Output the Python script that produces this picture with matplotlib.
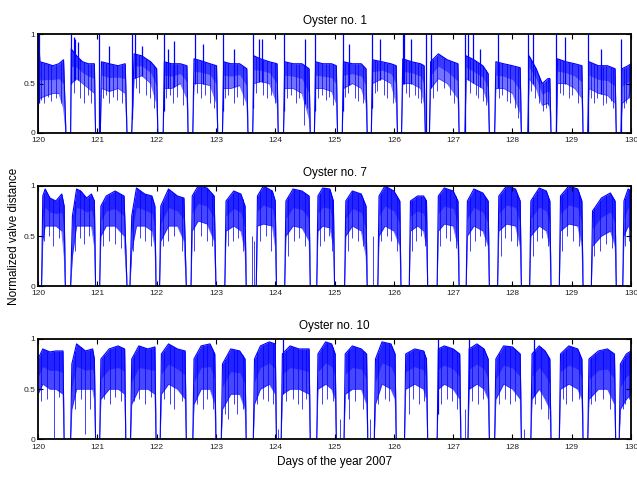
import matplotlib.pyplot as plt
import numpy as np

# valve opening band: day, upper edge, lower edge
days1 = [120.00, 120.01, 120.03, 120.15, 120.25, 120.35, 120.43, 120.47, 120.55, 120.56, 120.65, 120.75, 120.85, 120.95,
         120.97, 121.05, 121.07, 121.2, 121.35, 121.47, 121.5, 121.58, 121.62, 121.75, 121.9, 122.0, 122.02, 122.11,
         122.13, 122.25, 122.4, 122.51, 122.53, 122.61, 122.63, 122.75, 122.9, 123.01, 123.03, 123.11, 123.13, 123.25,
         123.4, 123.52, 123.54, 123.62, 123.64, 123.75, 123.9, 124.03, 124.05, 124.14, 124.16, 124.3, 124.45, 124.57,
         124.59, 124.66, 124.68, 124.8, 124.95, 125.03, 125.05, 125.13, 125.15, 125.3, 125.45, 125.53, 125.55, 125.62,
         125.64, 125.8, 125.95, 126.04, 126.06, 126.13, 126.15, 126.3, 126.45, 126.51, 126.53, 126.6, 126.62, 126.75,
         126.9, 127.08, 127.1, 127.2, 127.22, 127.35, 127.5, 127.59, 127.61, 127.7, 127.72, 127.85, 128.0, 128.13,
         128.15, 128.26, 128.28, 128.4, 128.5, 128.6, 128.63, 128.65, 128.74, 128.76, 128.9, 129.05, 129.17, 129.19,
         129.27, 129.29, 129.45, 129.6, 129.73, 129.75, 129.83, 129.85, 129.95, 130.0]
high1 = [0, 1.0, 0.72, 0.70, 0.68, 0.70, 0.74, 0, 0, 0.85, 0.78, 0.72, 0.70, 0.70,
         0, 0, 0.72, 0.70, 0.68, 0.70, 0, 0, 0.80, 0.78, 0.72, 0.65, 0, 0,
         0.72, 0.70, 0.70, 0.68, 0, 0, 0.75, 0.73, 0.70, 0.68, 0, 0, 0.72, 0.70,
         0.70, 0.65, 0, 0, 0.78, 0.75, 0.72, 0.70, 0, 0, 0.72, 0.70, 0.70, 0.65,
         0, 0, 0.72, 0.70, 0.70, 0.68, 0, 0, 0.72, 0.70, 0.70, 0.65, 0, 0,
         0.74, 0.72, 0.70, 0.68, 0, 0, 0.75, 0.72, 0.70, 0.68, 0, 0, 0.72, 0.80,
         0.74, 0.70, 0, 0, 0.78, 0.74, 0.68, 0.60, 0, 0, 0.72, 0.70, 0.68, 0.66,
         0, 0, 0.78, 0.65, 0.50, 0.55, 0.55, 0, 0, 0.75, 0.72, 0.70, 0.68, 0,
         0, 0.72, 0.68, 0.68, 0.65, 0, 0, 0.65, 0.68, 0.70]
low1 = [0, 0.30, 0.35, 0.38, 0.40, 0.40, 0.25, 0, 0, 0.50, 0.55, 0.50, 0.45, 0.40,
        0, 0, 0.45, 0.42, 0.45, 0.40, 0, 0, 0.55, 0.58, 0.50, 0.30, 0, 0,
        0.45, 0.45, 0.50, 0.35, 0, 0, 0.50, 0.50, 0.48, 0.30, 0, 0, 0.45, 0.45,
        0.48, 0.30, 0, 0, 0.50, 0.52, 0.50, 0.30, 0, 0, 0.45, 0.45, 0.40, 0.15,
        0, 0, 0.45, 0.45, 0.42, 0.30, 0, 0, 0.45, 0.50, 0.45, 0.30, 0, 0,
        0.50, 0.55, 0.50, 0.30, 0, 0, 0.50, 0.50, 0.45, 0.30, 0, 0, 0.45, 0.55,
        0.50, 0.35, 0, 0, 0.55, 0.50, 0.45, 0.30, 0, 0, 0.45, 0.45, 0.40, 0.20,
        0, 0, 0.55, 0.45, 0.28, 0.30, 0.25, 0, 0, 0.50, 0.50, 0.45, 0.35, 0,
        0, 0.45, 0.40, 0.38, 0.30, 0, 0, 0.30, 0.35, 0.45]

days7 = [120.00, 120.06, 120.08, 120.12, 120.2, 120.3, 120.4, 120.44, 120.46, 120.55, 120.58, 120.65, 120.72, 120.82,
         120.9, 120.95, 120.97, 121.04, 121.06, 121.15, 121.3, 121.45, 121.5, 121.55, 121.58, 121.66, 121.8, 121.92,
         121.97, 121.99, 122.05, 122.07, 122.2, 122.35, 122.46, 122.5, 122.58, 122.6, 122.7, 122.85, 122.97, 123.0,
         123.15, 123.17, 123.3, 123.42, 123.49, 123.51, 123.68, 123.7, 123.8, 123.95, 124.0, 124.02, 124.16, 124.18,
         124.3, 124.45, 124.57, 124.59, 124.7, 124.72, 124.8, 124.92, 124.98, 125.0, 125.17, 125.19, 125.3, 125.45,
         125.53, 125.55, 125.73, 125.75, 125.85, 126.0, 126.1, 126.12, 126.26, 126.28, 126.4, 126.5, 126.55, 126.57,
         126.73, 126.75, 126.85, 127.0, 127.08, 127.1, 127.22, 127.24, 127.35, 127.5, 127.59, 127.61, 127.75, 127.77,
         127.9, 128.05, 128.13, 128.15, 128.29, 128.31, 128.45, 128.57, 128.63, 128.65, 128.79, 128.81, 128.95, 129.1,
         129.17, 129.19, 129.33, 129.35, 129.5, 129.65, 129.73, 129.75, 129.86, 129.88, 129.95, 130.0]
high7 = [0, 0, 0.90, 0.97, 0.88, 0.85, 0.92, 0.80, 0, 0, 0.70, 0.97, 0.95, 0.88,
         0.92, 0.85, 0, 0, 0.80, 0.90, 0.95, 0.90, 0, 0, 0.70, 0.98, 0.92, 0.90,
         0.80, 0, 0, 0.80, 0.97, 0.90, 0.88, 0, 0, 0.90, 1.0, 0.98, 0.90, 0,
         0, 0.85, 0.95, 0.92, 0.80, 0, 0, 0.90, 1.0, 0.95, 0.85, 0, 0, 0.85,
         0.97, 0.95, 0.90, 0, 0, 0.90, 0.98, 0.97, 0.85, 0, 0, 0.85, 0.95, 0.92,
         0.80, 0, 0, 0.90, 1.0, 0.95, 0.85, 0, 0, 0.85, 0.90, 0.90, 0.85, 0,
         0, 0.90, 0.98, 0.95, 0.85, 0, 0, 0.85, 0.97, 0.93, 0.85, 0, 0, 0.90,
         1.0, 0.97, 0.85, 0, 0, 0.85, 0.98, 0.95, 0.85, 0, 0, 0.90, 1.0, 0.97,
         0.85, 0, 0, 0.75, 0.88, 0.93, 0.85, 0, 0, 0.85, 0.97, 0.95]
low7 = [0, 0, 0.45, 0.60, 0.60, 0.60, 0.55, 0.30, 0, 0, 0.30, 0.60, 0.60, 0.60,
        0.60, 0.40, 0, 0, 0.50, 0.60, 0.60, 0.50, 0, 0, 0.35, 0.60, 0.60, 0.55,
        0.40, 0, 0, 0.45, 0.60, 0.60, 0.45, 0, 0, 0.55, 0.65, 0.62, 0.45, 0,
        0, 0.55, 0.60, 0.55, 0.35, 0, 0, 0.60, 0.62, 0.60, 0.40, 0, 0, 0.50,
        0.60, 0.58, 0.45, 0, 0, 0.55, 0.60, 0.58, 0.40, 0, 0, 0.50, 0.60, 0.55,
        0.30, 0, 0, 0.50, 0.60, 0.55, 0.40, 0, 0, 0.55, 0.60, 0.55, 0.40, 0,
        0, 0.55, 0.62, 0.60, 0.40, 0, 0, 0.50, 0.60, 0.55, 0.40, 0, 0, 0.55,
        0.62, 0.60, 0.40, 0, 0, 0.50, 0.60, 0.55, 0.40, 0, 0, 0.55, 0.62, 0.60,
        0.40, 0, 0, 0.40, 0.50, 0.55, 0.40, 0, 0, 0.50, 0.60, 0.55]

days10 = [120.00, 120.08, 120.2, 120.3, 120.42, 120.44, 120.55, 120.57, 120.65, 120.8, 120.92, 120.95, 120.97, 121.04,
          121.06, 121.2, 121.35, 121.46, 121.48, 121.56, 121.58, 121.7, 121.85, 121.97, 121.99, 122.06, 122.08, 122.2,
          122.35, 122.48, 122.5, 122.61, 122.63, 122.75, 122.9, 122.98, 123.0, 123.09, 123.11, 123.25, 123.4, 123.49,
          123.51, 123.63, 123.65, 123.75, 123.9, 124.0, 124.02, 124.1, 124.12, 124.25, 124.4, 124.57, 124.59, 124.7,
          124.72, 124.85, 124.95, 125.01, 125.03, 125.16, 125.18, 125.3, 125.45, 125.54, 125.56, 125.67, 125.69, 125.8,
          125.95, 126.02, 126.04, 126.18, 126.2, 126.35, 126.5, 126.55, 126.57, 126.73, 126.75, 126.85, 127.0, 127.11,
          127.13, 127.25, 127.27, 127.4, 127.52, 127.59, 127.61, 127.7, 127.72, 127.85, 128.0, 128.13, 128.15, 128.31,
          128.33, 128.45, 128.55, 128.63, 128.65, 128.79, 128.81, 128.95, 129.1, 129.17, 129.19, 129.27, 129.29, 129.45,
          129.6, 129.72, 129.74, 129.8, 129.82, 129.92, 130.0]
high10 = [0.80, 0.90, 0.87, 0.88, 0.88, 0, 0, 0.75, 0.95, 0.88, 0.90, 0.80, 0, 0,
          0.80, 0.90, 0.93, 0.90, 0, 0, 0.80, 0.93, 0.90, 0.92, 0, 0, 0.85, 0.95,
          0.90, 0.88, 0, 0, 0.80, 0.93, 0.95, 0.85, 0, 0, 0.75, 0.90, 0.88, 0.80,
          0, 0, 0.80, 0.93, 0.97, 0.95, 0, 0, 0.85, 0.93, 0.90, 0.90, 0, 0,
          0.85, 0.97, 0.95, 0.85, 0, 0, 0.85, 0.93, 0.90, 0.85, 0, 0, 0.80, 0.97,
          0.95, 0.85, 0, 0, 0.85, 0.90, 0.88, 0.80, 0, 0, 0.90, 0.93, 0.90, 0.85,
          0, 0, 0.90, 0.95, 0.90, 0.80, 0, 0, 0.80, 0.93, 0.92, 0.85, 0, 0,
          0.85, 0.93, 0.88, 0.80, 0, 0, 0.85, 0.93, 0.90, 0.80, 0, 0, 0.80, 0.88,
          0.90, 0.85, 0, 0, 0.75, 0.85, 0.88]
low10 = [0.45, 0.55, 0.50, 0.50, 0.45, 0, 0, 0.30, 0.50, 0.50, 0.50, 0.40, 0, 0,
         0.40, 0.50, 0.50, 0.45, 0, 0, 0.35, 0.50, 0.50, 0.45, 0, 0, 0.45, 0.55,
         0.50, 0.40, 0, 0, 0.35, 0.50, 0.50, 0.35, 0, 0, 0.30, 0.45, 0.45, 0.30,
         0, 0, 0.35, 0.50, 0.55, 0.45, 0, 0, 0.45, 0.50, 0.50, 0.45, 0, 0,
         0.50, 0.55, 0.50, 0.40, 0, 0, 0.45, 0.50, 0.50, 0.35, 0, 0, 0.35, 0.55,
         0.50, 0.40, 0, 0, 0.50, 0.55, 0.50, 0.40, 0, 0, 0.50, 0.55, 0.50, 0.40,
         0, 0, 0.50, 0.55, 0.50, 0.40, 0, 0, 0.40, 0.55, 0.50, 0.40, 0, 0,
         0.40, 0.50, 0.40, 0.30, 0, 0, 0.50, 0.55, 0.50, 0.40, 0, 0, 0.40, 0.50,
         0.50, 0.35, 0, 0, 0.30, 0.40, 0.45]

# thin excursions: upward spikes (day, top) and downward dips (day, bottom)
spike_days1 = [120.01, 120.56, 120.6, 120.63, 120.68, 121.03, 121.2, 121.59, 121.63, 121.75, 122.12, 122.2, 122.3,
               122.65, 122.78, 123.12, 123.3, 123.63, 123.72, 123.78, 124.15, 124.5, 124.67, 125.14, 125.25, 125.63,
               125.76, 126.15, 126.17, 126.29, 126.55, 126.62, 127.2, 127.25, 127.33, 127.45, 127.75, 128.26, 128.34,
               128.74, 128.88, 129.27, 129.5, 129.83]
spike_tops1 = [1.0, 1.0, 0.97, 0.95, 0.92, 1.0, 0.88, 1.0, 1.0, 0.88, 1.0, 0.85, 0.93,
               1.0, 0.90, 1.0, 0.85, 1.0, 0.95, 0.95, 1.0, 0.95, 1.0, 1.0, 0.90, 1.0,
               0.95, 1.0, 1.0, 0.95, 1.0, 1.0, 1.0, 1.0, 1.0, 0.85, 1.0, 1.0, 1.0,
               1.0, 0.97, 1.0, 0.85, 0.95]
dip_days1 = [120.05, 120.1, 120.17, 120.22, 120.3, 120.38,
             120.6, 120.7, 120.78, 120.84, 120.9,
             121.1, 121.15, 121.2, 121.27, 121.33, 121.42,
             121.66, 121.7, 121.82, 121.88, 121.95,
             122.16, 122.22, 122.28, 122.35, 122.45,
             122.68, 122.75, 122.82, 122.9, 122.97,
             123.15, 123.2, 123.3, 123.36, 123.45,
             123.68, 123.8, 123.86, 123.93, 124.0,
             124.2, 124.27, 124.35, 124.4, 124.48, 124.53,
             124.72, 124.78, 124.85, 124.9, 124.98,
             125.18, 125.22, 125.35, 125.4, 125.48,
             125.68, 125.72, 125.83, 125.88, 125.98,
             126.2, 126.25, 126.35, 126.4, 126.45,
             126.66, 126.72, 126.85, 126.95, 127.02,
             127.28, 127.38, 127.42, 127.5, 127.55,
             127.78, 127.82, 127.9, 127.95, 128.05, 128.1,
             128.32, 128.38, 128.45, 128.52, 128.56, 128.6,
             128.8, 128.85, 128.95, 129.0, 129.1,
             129.32, 129.38, 129.42, 129.52, 129.58, 129.66, 129.7,
             129.88, 129.92, 129.97]
dip_bottoms1 = [0.33, 0.30, 0.36, 0.32, 0.35, 0.30,
                0.40, 0.35, 0.30, 0.38, 0.30,
                0.35, 0.38, 0.30, 0.36, 0.33, 0.30,
                0.45, 0.40, 0.38, 0.35, 0.25,
                0.35, 0.38, 0.30, 0.36, 0.28,
                0.40, 0.35, 0.38, 0.30, 0.25,
                0.35, 0.38, 0.30, 0.36, 0.28,
                0.40, 0.38, 0.35, 0.38, 0.30,
                0.35, 0.38, 0.30, 0.35, 0.08, 0.25,
                0.35, 0.38, 0.33, 0.36, 0.28,
                0.36, 0.40, 0.35, 0.32, 0.30,
                0.40, 0.42, 0.38, 0.35, 0.30,
                0.40, 0.36, 0.38, 0.35, 0.30,
                0.35, 0.42, 0.45, 0.38, 0.30,
                0.40, 0.38, 0.35, 0.32, 0.28,
                0.35, 0.38, 0.32, 0.30, 0.25, 0.15,
                0.42, 0.35, 0.30, 0.22, 0.25, 0.28,
                0.40, 0.38, 0.35, 0.38, 0.30,
                0.35, 0.30, 0.35, 0.28, 0.30, 0.32, 0.25,
                0.25, 0.30, 0.35]

spike_days7 = []
spike_tops7 = []
dip_days7 = [120.1, 120.18, 120.26, 120.35,
             120.62, 120.7, 120.78, 120.86,
             121.1, 121.2, 121.3, 121.4,
             121.6, 121.72, 121.8, 121.9,
             122.1, 122.2, 122.3, 122.42,
             122.63, 122.75, 122.85, 122.93,
             123.2, 123.28, 123.37, 123.45,
             123.6, 123.65, 123.75, 123.85, 123.92,
             124.22, 124.32, 124.4, 124.5,
             124.75, 124.83, 124.9, 124.96,
             125.22, 125.3, 125.4, 125.48,
             125.64, 125.78, 125.88, 125.96, 126.05,
             126.3, 126.38, 126.45, 126.52,
             126.78, 126.88, 126.95, 127.04,
             127.28, 127.36, 127.45, 127.54,
             127.8, 127.88, 127.98, 128.08,
             128.35, 128.42, 128.5, 128.6,
             128.84, 128.92, 129.02, 129.12,
             129.38, 129.48, 129.58, 129.68,
             129.9, 129.96]
dip_bottoms7 = [0.45, 0.50, 0.40, 0.48,
                0.35, 0.48, 0.42, 0.50,
                0.40, 0.45, 0.42, 0.38,
                0.35, 0.48, 0.45, 0.40,
                0.40, 0.45, 0.50, 0.35,
                0.35, 0.50, 0.45, 0.40,
                0.40, 0.45, 0.48, 0.35,
                0.50, 0.45, 0.45, 0.50, 0.35,
                0.30, 0.45, 0.48, 0.40,
                0.40, 0.45, 0.50, 0.35,
                0.35, 0.48, 0.45, 0.40,
                0.50, 0.45, 0.50, 0.45, 0.35,
                0.35, 0.45, 0.50, 0.40,
                0.40, 0.48, 0.45, 0.38,
                0.35, 0.45, 0.50, 0.40,
                0.30, 0.48, 0.45, 0.40,
                0.30, 0.45, 0.48, 0.40,
                0.35, 0.50, 0.45, 0.40,
                0.30, 0.35, 0.42, 0.38,
                0.40, 0.45]

spike_days10 = [124.13, 126.74, 127.27, 128.37]
spike_tops10 = [1.0, 1.0, 1.0, 1.0]
dip_days10 = [120.05, 120.15, 120.27, 120.35,
              120.62, 120.72, 120.8, 120.88,
              121.12, 121.22, 121.3, 121.4,
              121.62, 121.7, 121.8, 121.9,
              122.12, 122.22, 122.3, 122.42,
              122.68, 122.78, 122.85, 122.95,
              123.15, 123.2, 123.3, 123.35, 123.45,
              123.7, 123.8, 123.88, 123.96,
              124.05, 124.18, 124.3, 124.38, 124.45, 124.52,
              124.78, 124.88, 124.97,
              125.1, 125.22, 125.25, 125.35, 125.48,
              125.6, 125.73, 125.85, 125.92,
              126.25, 126.32, 126.42, 126.5,
              126.8, 126.9, 126.98, 127.06,
              127.2, 127.32, 127.42, 127.5,
              127.78, 127.88, 127.95, 128.05,
              128.2, 128.38, 128.48, 128.6,
              128.85, 128.9, 129.0, 129.12,
              129.33, 129.4, 129.52, 129.65,
              129.86, 129.9, 129.96]
dip_bottoms10 = [0.38, 0.40, 0.0, 0.42,
                 0.30, 0.40, 0.05, 0.30,
                 0.40, 0.35, 0.42, 0.38,
                 0.38, 0.40, 0.35, 0.42,
                 0.40, 0.35, 0.30, 0.38,
                 0.35, 0.30, 0.40, 0.30,
                 0.25, 0.20, 0.35, 0.25, 0.30,
                 0.35, 0.40, 0.38, 0.35,
                 0.10, 0.38, 0.40, 0.35, 0.30, 0.40,
                 0.35, 0.40, 0.38,
                 0.20, 0.40, 0.20, 0.38, 0.30,
                 0.20, 0.35, 0.40, 0.38,
                 0.25, 0.40, 0.35, 0.38,
                 0.35, 0.40, 0.38, 0.30,
                 0.30, 0.38, 0.35, 0.40,
                 0.35, 0.40, 0.35, 0.38,
                 0.10, 0.35, 0.30, 0.20,
                 0.40, 0.35, 0.38, 0.40,
                 0.35, 0.38, 0.40, 0.30,
                 0.30, 0.35, 0.40]

titles = ['Oyster no. 1', 'Oyster no. 7', 'Oyster no. 10']
day_ticks = [120, 121, 122, 123, 124, 125, 126, 127, 128, 129, 130]
y_ticks = [0, 0.5, 1]
y_ticklabels = ['0', '0.5', '1']

series = [
    (days1, high1, low1, spike_days1, spike_tops1, dip_days1, dip_bottoms1, 0.55),
    (days7, high7, low7, spike_days7, spike_tops7, dip_days7, dip_bottoms7, 0.72),
    (days10, high10, low10, spike_days10, spike_tops10, dip_days10, dip_bottoms10, 0.72),
]

plt.rcParams['font.family'] = ['Liberation Sans Narrow', 'Liberation Sans', 'DejaVu Sans']

fig = plt.figure(figsize=(6.37, 4.8), dpi=100)
boxes = [[0.0597, 0.723, 0.931, 0.206],
         [0.0597, 0.404, 0.931, 0.2085],
         [0.0597, 0.0844, 0.931, 0.2096]]
blue = '#0000ff'

for box, title, (d, hi, lo, sd, st, dd, db, a) in zip(boxes, titles, series):
    ax = fig.add_axes(box)
    d = np.array(d)
    hi = np.array(hi)
    lo = np.array(lo)
    # lighter in the lower part of the band, denser near the top
    ax.fill_between(d, lo, hi, color=blue, alpha=a, linewidth=0)
    ax.fill_between(d, (lo + hi) / 2, hi, color=blue, alpha=0.5, linewidth=0)
    ax.plot(d, hi, color=blue, lw=0.8)
    ax.plot(d, lo, color=blue, lw=0.5, alpha=0.6)
    if len(sd):
        ax.vlines(sd, np.interp(sd, d, lo), st, color=blue, lw=0.9)
    ax.vlines(dd, db, np.interp(dd, d, hi), color=blue, lw=0.7, alpha=0.75)
    ax.set_xlim(120, 130)
    ax.set_ylim(0, 1)
    ax.set_xticks(day_ticks)
    ax.set_yticks(y_ticks)
    ax.set_yticklabels(y_ticklabels)
    ax.tick_params(direction='in', length=3.5, width=0.8, labelsize=6,
                   top=True, right=True, colors='black', labelcolor='#222222')
    ax.tick_params(axis='x', pad=3)
    ax.tick_params(axis='y', pad=2)
    for s in ax.spines.values():
        s.set_linewidth(1.3)
    ax.set_title(title, fontsize=8.5, pad=7)

fig.text(0.022, 0.508, 'Normalized valve distance', rotation=90, ha='center', va='center',
         fontsize=8.5, family=['Liberation Sans', 'DejaVu Sans'])
fig.text(0.526, 0.037, 'Days of the year 2007', ha='center', va='center', fontsize=8.5)

fig.savefig('out.png', dpi=100)
